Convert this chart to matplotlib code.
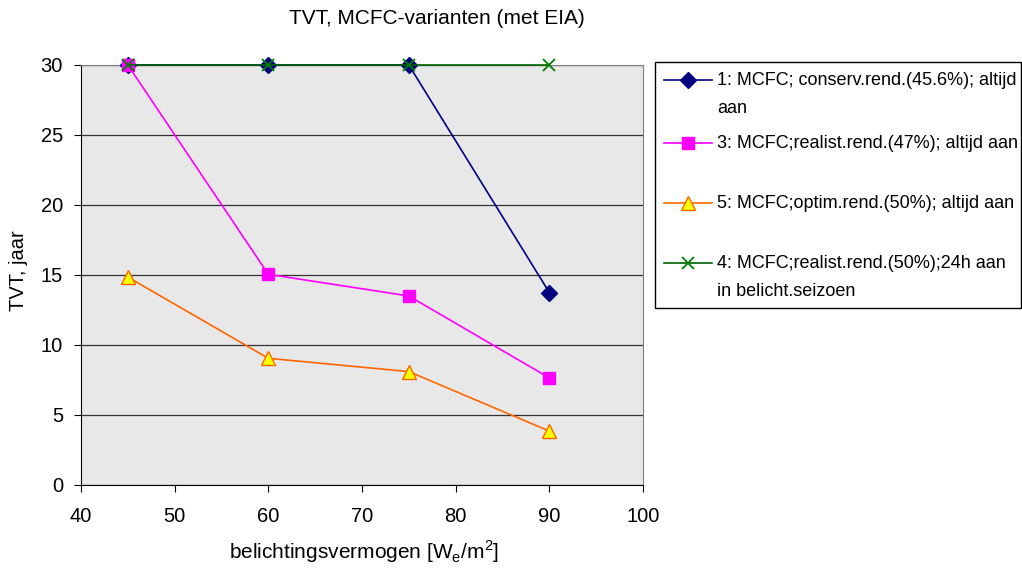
import matplotlib.pyplot as plt
from matplotlib.lines import Line2D
from matplotlib.patches import Rectangle

plt.rcParams['font.family'] = ['Liberation Sans', 'DejaVu Sans']

# data
x_vals = [45, 60, 75, 90]
serie_1 = [30, 30, 30, 13.75]
serie_3 = [30, 15.05, 13.5, 7.65]
serie_5 = [14.85, 9.05, 8.1, 3.85]
serie_4 = [30, 30, 30, 30]

labels = ['1: MCFC; conserv.rend.(45.6%); altijd\naan',
          '3: MCFC;realist.rend.(47%); altijd aan',
          '5: MCFC;optim.rend.(50%); altijd aan',
          '4: MCFC;realist.rend.(50%);24h aan\nin belicht.seizoen']

x_ticks = [40, 50, 60, 70, 80, 90, 100]
y_ticks = [0, 5, 10, 15, 20, 25, 30]

styles = [
    dict(color='#000080', marker='D', markersize=8, markerfacecolor='#000080', markeredgecolor='#000080'),
    dict(color='#FF00FF', marker='s', markersize=8, markerfacecolor='#FF00FF', markeredgecolor='#FF00FF'),
    dict(color='#FF6600', marker='^', markersize=10, markerfacecolor='#FFFF00', markeredgecolor='#FF6600'),
    dict(color='#006400', marker='x', markersize=9, markeredgecolor='#008000', markeredgewidth=1.3),
]

W, H = 1022, 569
fig = plt.figure(figsize=(W / 100, H / 100), dpi=100)
ax = fig.add_axes([81 / W, 1 - 485 / H, (643 - 81) / W, (485 - 65) / H])
ax.set_facecolor('#E8E8E8')

for ys, st in zip([serie_1, serie_3, serie_5, serie_4], styles):
    ax.plot(x_vals, ys, linewidth=1.2, clip_on=False, zorder=3, **st)

ax.set_xlim(40, 100)
ax.set_ylim(0, 30)
ax.set_xticks(x_ticks)
ax.set_yticks(y_ticks)
ax.tick_params(labelsize=14.5, direction='out', length=5, color='black')
ax.tick_params(axis='x', pad=11)
ax.tick_params(axis='y', pad=8)
ax.yaxis.grid(True, color='#333333', linewidth=0.9)
ax.set_axisbelow(True)
for side in ['top', 'right']:
    ax.spines[side].set_color('#808080')
for side in ['left', 'bottom']:
    ax.spines[side].set_color('black')

fig.text(437 / W, 1 - 18 / H, 'TVT, MCFC-varianten (met EIA)', ha='center', va='center', fontsize=15)
fig.text(364 / W, 1 - 552 / H, 'belichtingsvermogen [W$_\\mathregular{e}$/m$^\\mathregular{2}$]',
         ha='center', va='center', fontsize=15)
fig.text(18 / W, 1 - 271 / H, 'TVT, jaar', ha='center', va='center', fontsize=14.5, rotation=90)

# legend drawn by hand in pixel coordinates, marker on the first text line
lg = fig.add_axes([0, 0, 1, 1], zorder=5)
lg.set_xlim(0, W)
lg.set_ylim(H, 0)
lg.axis('off')
lg.add_patch(Rectangle((655, 62), 366, 246, facecolor='white', edgecolor='black', linewidth=1))
entry_y = [80, 143, 203, 263]
for yy, st, lab in zip(entry_y, styles, labels):
    lg.add_line(Line2D([664, 688, 712], [yy, yy, yy], linewidth=1.2, markevery=[1], **st))
    for i, line in enumerate(lab.split('\n')):
        lg.text(717, yy + i * 28, line, va='center', ha='left', fontsize=13)

fig.savefig('out.png', dpi=100)
